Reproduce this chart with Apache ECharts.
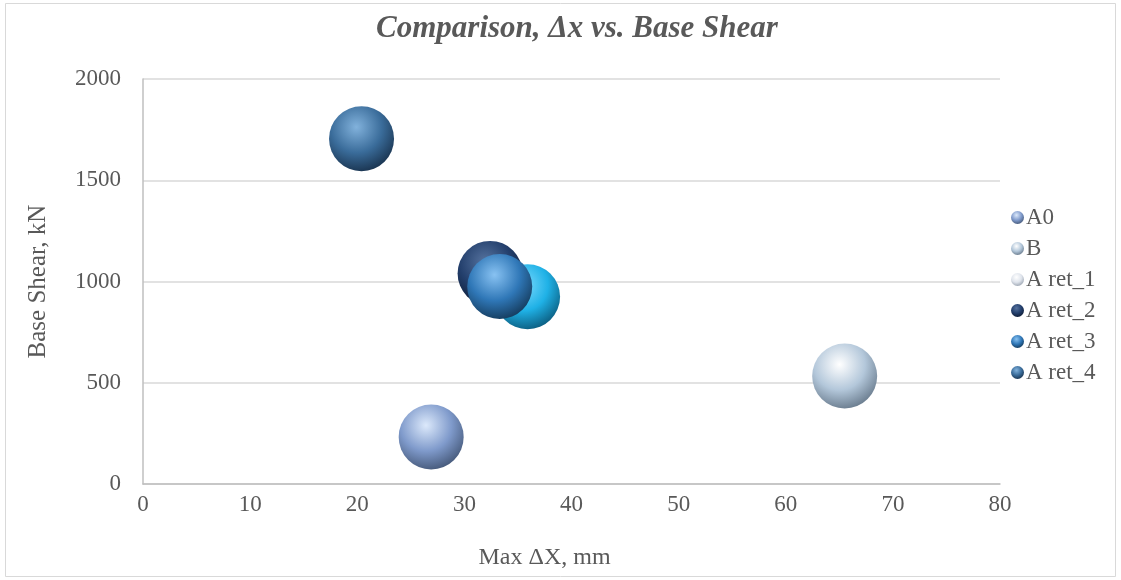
<!DOCTYPE html>
<html>
<head>
<meta charset="utf-8">
<script src="https://cdn.jsdelivr.net/npm/echarts@6/dist/echarts.min.js"></script>
<style>
  html, body { margin: 0; padding: 0; background: #ffffff; }
  #chart { width: 1121px; height: 580px; }
</style>
</head>
<body>
<div id="chart"></div>
<script>
// Bubble data: max lateral displacement (mm) against base shear (kN)
const seriesNames = ['A0', 'B', 'A ret_1', 'A ret_2', 'A ret_3', 'A ret_4'];
const maxDx = [26.9, 65.5, 35.9, 32.4, 33.3, 20.4];
const baseShear = [232, 533, 925, 1040, 975, 1705];
const xTicks = [0, 10, 20, 30, 40, 50, 60, 70, 80];
const yTicks = [0, 500, 1000, 1500, 2000];

// Sphere shading per series: [highlight, body, rim]
const shades = [
  ['#dce9fb', '#7f9acb', '#435676'],
  ['#ffffff', '#b3c7da', '#66788a'],
  ['#7fdcff', '#1fb1e6', '#0b5a7c'],
  ['#56739f', '#233f6c', '#0d1a33'],
  ['#88c2f2', '#2f77b7', '#143959'],
  ['#82b2dc', '#3a6c9a', '#18314c']
];
// Legend swatch for A ret_1 is drawn pale
const legendShades = shades.slice();
legendShades[2] = ['#ffffff', '#dfe4ec', '#9aa3b0'];

function sphere(s) {
  return new echarts.graphic.RadialGradient(0.42, 0.32, 0.72, [
    { offset: 0, color: s[0] },
    { offset: 0.55, color: s[1] },
    { offset: 1, color: s[2] }
  ]);
}

const textColor = '#595959';
const font = '"Liberation Serif", "Times New Roman", serif';

const chart = echarts.init(document.getElementById('chart'));
chart.setOption({
  backgroundColor: '#ffffff',
  animation: false,
  title: {
    text: 'Comparison, \u0394x vs. Base Shear',
    left: 572,
    top: 8,
    textAlign: 'center',
    textStyle: {
      fontFamily: font,
      fontStyle: 'italic',
      fontWeight: 'bold',
      fontSize: 31,
      color: textColor
    }
  },
  graphic: [{
    type: 'rect',
    shape: { x: 5.5, y: 3.5, width: 1110, height: 573 },
    style: { fill: 'none', stroke: '#d9d9d9', lineWidth: 1 },
    silent: true
  }],
  legend: {
    orient: 'vertical',
    left: 1006,
    top: 201,
    itemWidth: 13,
    itemHeight: 13,
    itemGap: 8,
    icon: 'circle',
    textStyle: { fontFamily: font, fontSize: 23, color: textColor, lineHeight: 23, padding: [0, 0, 0, -3] },
    data: seriesNames.map((n, i) => ({ name: n, itemStyle: { color: sphere(legendShades[i]) } }))
  },
  grid: { left: 143, right: 121, top: 79, bottom: 96 },
  xAxis: {
    type: 'value',
    min: xTicks[0],
    max: xTicks[xTicks.length - 1],
    interval: xTicks[1] - xTicks[0],
    name: 'Max \u0394X, mm',
    nameLocation: 'middle',
    nameGap: 62,
    nameTextStyle: { fontFamily: font, fontSize: 24, color: textColor, padding: [0, 54, 0, 0] },
    axisLine: { show: true, lineStyle: { color: '#bfbfbf', width: 1.5 } },
    axisTick: { show: false },
    axisLabel: { fontFamily: font, fontSize: 23, color: textColor, margin: 9 },
    splitLine: { show: false }
  },
  yAxis: {
    type: 'value',
    min: yTicks[0],
    max: yTicks[yTicks.length - 1],
    interval: yTicks[1] - yTicks[0],
    name: 'Base Shear, kN',
    nameLocation: 'middle',
    nameGap: 92,
    nameTextStyle: { fontFamily: font, fontSize: 25, color: textColor },
    axisLine: { show: true, lineStyle: { color: '#bfbfbf', width: 1.5 } },
    axisTick: { show: false },
    axisLabel: { fontFamily: font, fontSize: 23, color: textColor, margin: 22, formatter: v => String(v) },
    splitLine: { show: true, lineStyle: { color: '#d9d9d9', width: 1.5 } }
  },
  series: seriesNames.map((n, i) => ({
    name: n,
    type: 'scatter',
    symbol: 'circle',
    symbolSize: 65,
    itemStyle: { color: sphere(shades[i]), opacity: 1 },
    data: [[maxDx[i], baseShear[i]]]
  }))
});
</script>
</body>
</html>
